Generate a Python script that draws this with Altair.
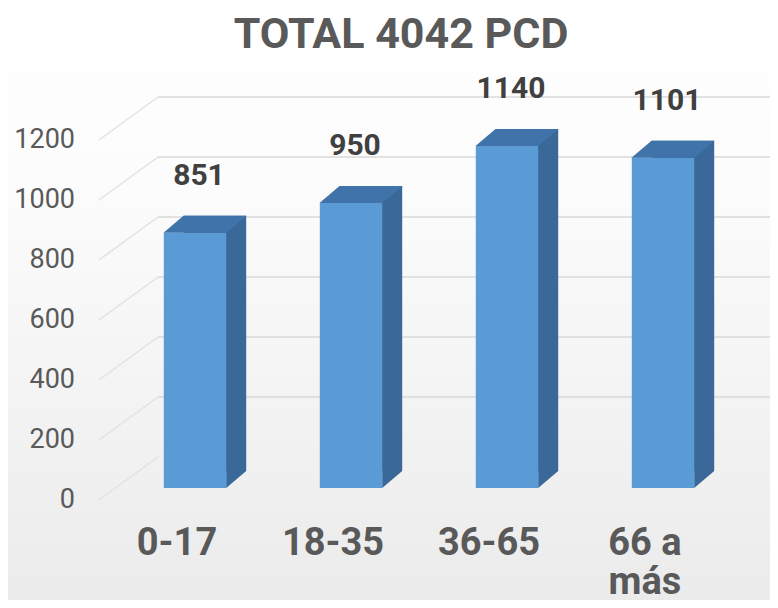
import altair as alt
import pandas as pd

categories = ["0-17", "18-35", "36-65", "66 a más"]
values = [851, 950, 1140, 1101]
y_ticks = [0, 200, 400, 600, 800, 1000, 1200]
title_text = ["TOTAL 4042 PCD"]

df = pd.DataFrame({"grupo": categories, "valor": values})
ticks = pd.DataFrame({"v": y_ticks})
grid_h = pd.DataFrame({"v": y_ticks[1:]})
tdf = pd.DataFrame({"t": title_text})

FRONT = "#5b9bd5"
SIDE = "#3a6898"
TOP = "#3f73a9"
DX, DY = 20, 17
W, H = 624, 360
PL, PT = 109, 120

xscale = alt.Scale(domain=categories, paddingInner=0.6, paddingOuter=0.3)
yscale = alt.Scale(domain=[0, 1200], nice=False, zero=True)

X = alt.X("grupo:N", scale=xscale, sort=categories,
          axis=alt.Axis(title=None, domain=False, ticks=False, grid=False, zindex=2,
                        labelAngle=0, labelFont="Roboto", labelFontWeight="bold",
                        labelFontSize=38, labelColor="#595959", labelOffset=-18,
                        labelPadding=36, labelBaseline="top", labelLineHeight=39,
                        labelExpr="datum.label == '66 a más' ? ['66 a', 'más'] : datum.label"))

bg = alt.Chart(pd.DataFrame({"a": [0]})).mark_rect(
    fill=alt.LinearGradient(gradient="linear", x1=0, x2=0, y1=0, y2=1,
                            stops=[alt.GradientStop(color="#ffffff", offset=0),
                                   alt.GradientStop(color="#fcfcfc", offset=0.3),
                                   alt.GradientStop(color="#ebebeb", offset=1)])
).encode(x=alt.value(-PL), x2=alt.value(762 - PL), y=alt.value(-PT), y2=alt.value(592 - PT))

title = alt.Chart(tdf).mark_text(font="Roboto", fontWeight="bold", fontSize=43,
                                 color="#595959", align="center", baseline="alphabetic").encode(
    x=alt.value(393 - PL), y=alt.value(40 - PT), text="t:N")

diag = alt.Chart(ticks).mark_rule(color="#e2e2e2", strokeWidth=1.5, yOffset=12, y2Offset=-31).encode(
    y=alt.Y("v:Q", scale=yscale, axis=None), y2="v:Q",
    x=alt.value(-18), x2=alt.value(41))

hgrid = alt.Chart(grid_h).mark_rule(color="#d9d9d9", strokeWidth=1.5, yOffset=-31, y2Offset=-31).encode(
    y=alt.Y("v:Q", scale=yscale, axis=None), y2="v:Q",
    x=alt.value(41), x2=alt.value(762 - PL))

ylabels = alt.Chart(ticks).mark_text(font="Roboto", fontSize=27, color="#595959",
                                     align="right", baseline="middle", dy=12).encode(
    y=alt.Y("v:Q", scale=yscale, axis=None), x=alt.value(-42), text="v:Q")

back = alt.Chart(df).mark_bar(color=SIDE, xOffset=DX, yOffset=-DY, y2Offset=-DY).encode(
    x=X, y=alt.Y("valor:Q", scale=yscale, axis=None))

tri_path = "M -1 0.85 L 1 -0.85 L -1 -0.85 Z"
tri = alt.Chart(df).transform_calculate(base="0").mark_point(
    shape=tri_path, filled=True, opacity=1, size=400,
    color=SIDE, strokeWidth=0, xOffset=31.2 + 10, yOffset=-8.5).encode(
    x=X, y=alt.Y("base:Q", scale=yscale, axis=None))

front = alt.Chart(df).mark_bar(color=FRONT).encode(
    x=X, y=alt.Y("valor:Q", scale=yscale, axis=None))

top_path = "M -1 0.2048 L 0.5181 0.2048 L 1 -0.2048 L -0.5181 -0.2048 Z"
topface = alt.Chart(df).mark_point(shape=top_path, filled=True, opacity=1, size=83 * 83,
                                   color=TOP, strokeWidth=0, xOffset=10, yOffset=-8.5).encode(
    x=X, y=alt.Y("valor:Q", scale=yscale, axis=None))

labels = alt.Chart(df).mark_text(font="Roboto", fontWeight="bold", fontSize=30,
                                 color="#404040", baseline="middle", dy=-57, dx=4).encode(
    x=X, y=alt.Y("valor:Q", scale=yscale, axis=None), text="valor:Q")

chart = alt.layer(bg, title, diag, hgrid, ylabels, back, tri, front, topface, labels).properties(
    width=W, height=H,
    autosize=alt.AutoSizeParams(type="none"),
    padding={"left": PL, "top": PT, "right": 762 - PL - W, "bottom": 592 - PT - H},
).configure_view(stroke=None).configure(background="#ffffff")

chart.save("out.html", embed_options={"renderer": "svg", "actions": False})
